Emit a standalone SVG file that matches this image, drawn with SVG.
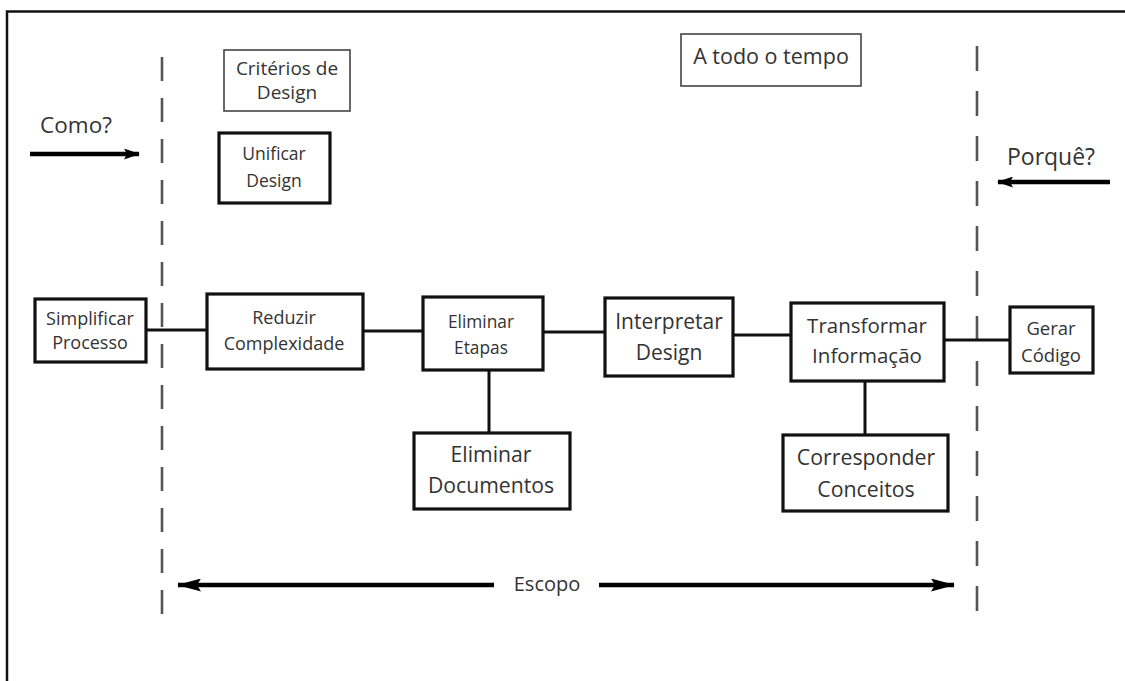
<svg xmlns="http://www.w3.org/2000/svg" width="1125" height="681" viewBox="0 0 1125 681">
  <defs>
    <style>
      .box { fill: #ffffff; stroke: #111111; stroke-width: 3.2; }
      .thin { fill: #ffffff; stroke: #444444; stroke-width: 1.6; }
      .lbl { font-family: "Open Sans", "Noto Sans", sans-serif; fill: #333333; text-anchor: middle; }
      .link { stroke: #111111; stroke-width: 3; fill: none; }
      .dash { stroke: #555555; stroke-width: 2.6; fill: none; }
      .bold { stroke: #000000; stroke-width: 4.5; fill: none; }
    </style>
    <marker id="headS" viewBox="0 0 16 11" refX="15" refY="5.5" markerWidth="16" markerHeight="11" markerUnits="userSpaceOnUse" orient="auto">
      <path d="M0,0 L16,5.5 L0,11 L3,5.5 Z" fill="#000000"/>
    </marker>
    <marker id="headL" viewBox="0 0 24 13" refX="23" refY="6.5" markerWidth="24" markerHeight="13" markerUnits="userSpaceOnUse" orient="auto">
      <path d="M0,0 L24,6.5 L0,13 L4,6.5 Z" fill="#000000"/>
    </marker>
  </defs>

  <rect width="1125" height="681" fill="#ffffff"/>

  <!-- outer frame -->
  <path d="M7,681 L7,11.5 L1125,11.5" fill="none" stroke="#111111" stroke-width="2.5"/>

  <!-- scope boundaries -->
  <g id="boundaries">
    <line class="dash" x1="162" y1="57" x2="162" y2="622" stroke-dasharray="24 17"/>
    <line class="dash" x1="977" y1="46" x2="977" y2="618" stroke-dasharray="25 20"/>
  </g>

  <!-- connectors -->
  <g id="connectors">
    <line class="link" x1="146" y1="330" x2="207" y2="330"/>
    <line class="link" x1="363" y1="331" x2="423" y2="331"/>
    <line class="link" x1="543" y1="332" x2="605" y2="332"/>
    <line class="link" x1="733" y1="335" x2="791" y2="335"/>
    <line class="link" x1="944" y1="340" x2="1010" y2="340"/>
    <line class="link" x1="489" y1="370" x2="489" y2="433"/>
    <line class="link" x1="865" y1="381" x2="865" y2="435"/>
    <line class="bold" x1="30" y1="154" x2="139" y2="154" marker-end="url(#headS)"/>
    <line class="bold" x1="1110" y1="182" x2="998" y2="182" marker-end="url(#headS)"/>
    <line class="bold" x1="494" y1="585" x2="178" y2="585" marker-end="url(#headL)"/>
    <line class="bold" x1="599" y1="585" x2="954" y2="585" marker-end="url(#headL)"/>
  </g>

  <!-- free labels -->
  <g id="labels">
    <text class="lbl" x="76" y="133" font-size="22.5">Como?</text>
    <text class="lbl" x="1051" y="165" font-size="23">Porquê?</text>
    <text class="lbl" x="547" y="591" font-size="20">Escopo</text>
  </g>

  <g id="criterios">
    <rect class="thin" x="224" y="50" width="126" height="61"/>
    <text class="lbl" x="287" y="75" font-size="19">Critérios de</text>
    <text class="lbl" x="287" y="99" font-size="19">Design</text>
  </g>

  <g id="todo-tempo">
    <rect class="thin" x="681" y="34" width="180" height="52"/>
    <text class="lbl" x="771" y="64" font-size="21.5">A todo o tempo</text>
  </g>

  <g id="unificar">
    <rect class="box" x="219" y="133" width="111" height="70"/>
    <text class="lbl" x="274" y="160" font-size="17.5">Unificar</text>
    <text class="lbl" x="274" y="187" font-size="17.5">Design</text>
  </g>

  <g id="simplificar">
    <rect class="box" x="35" y="299" width="111" height="63"/>
    <text class="lbl" x="90" y="325" font-size="18">Simplificar</text>
    <text class="lbl" x="90" y="349" font-size="18">Processo</text>
  </g>

  <g id="reduzir">
    <rect class="box" x="207" y="294" width="156" height="75"/>
    <text class="lbl" x="284" y="324" font-size="18">Reduzir</text>
    <text class="lbl" x="284" y="350" font-size="18">Complexidade</text>
  </g>

  <g id="eliminar-etapas">
    <rect class="box" x="423" y="297" width="120" height="73"/>
    <text class="lbl" x="481" y="328" font-size="17.3">Eliminar</text>
    <text class="lbl" x="481" y="354" font-size="17.3">Etapas</text>
  </g>

  <g id="interpretar">
    <rect class="box" x="605" y="298" width="128" height="78"/>
    <text class="lbl" x="669" y="329" font-size="21">Interpretar</text>
    <text class="lbl" x="669" y="360" font-size="21">Design</text>
  </g>

  <g id="eliminar-documentos">
    <rect class="box" x="414" y="433" width="156" height="76"/>
    <text class="lbl" x="491" y="462" font-size="21.2">Eliminar</text>
    <text class="lbl" x="491" y="493" font-size="21.2">Documentos</text>
  </g>

  <g id="transformar">
    <rect class="box" x="791" y="303" width="153" height="78"/>
    <text class="lbl" x="867" y="333" font-size="20.5">Transformar</text>
    <text class="lbl" x="867" y="363" font-size="20.5">Informação</text>
  </g>

  <g id="gerar">
    <rect class="box" x="1010" y="307" width="83" height="66"/>
    <text class="lbl" x="1051" y="335" font-size="18.5">Gerar</text>
    <text class="lbl" x="1051" y="362" font-size="18.5">Código</text>
  </g>

  <g id="corresponder">
    <rect class="box" x="783" y="435" width="165" height="76"/>
    <text class="lbl" x="866" y="465" font-size="21.3">Corresponder</text>
    <text class="lbl" x="866" y="497" font-size="21.3">Conceitos</text>
  </g>
</svg>
